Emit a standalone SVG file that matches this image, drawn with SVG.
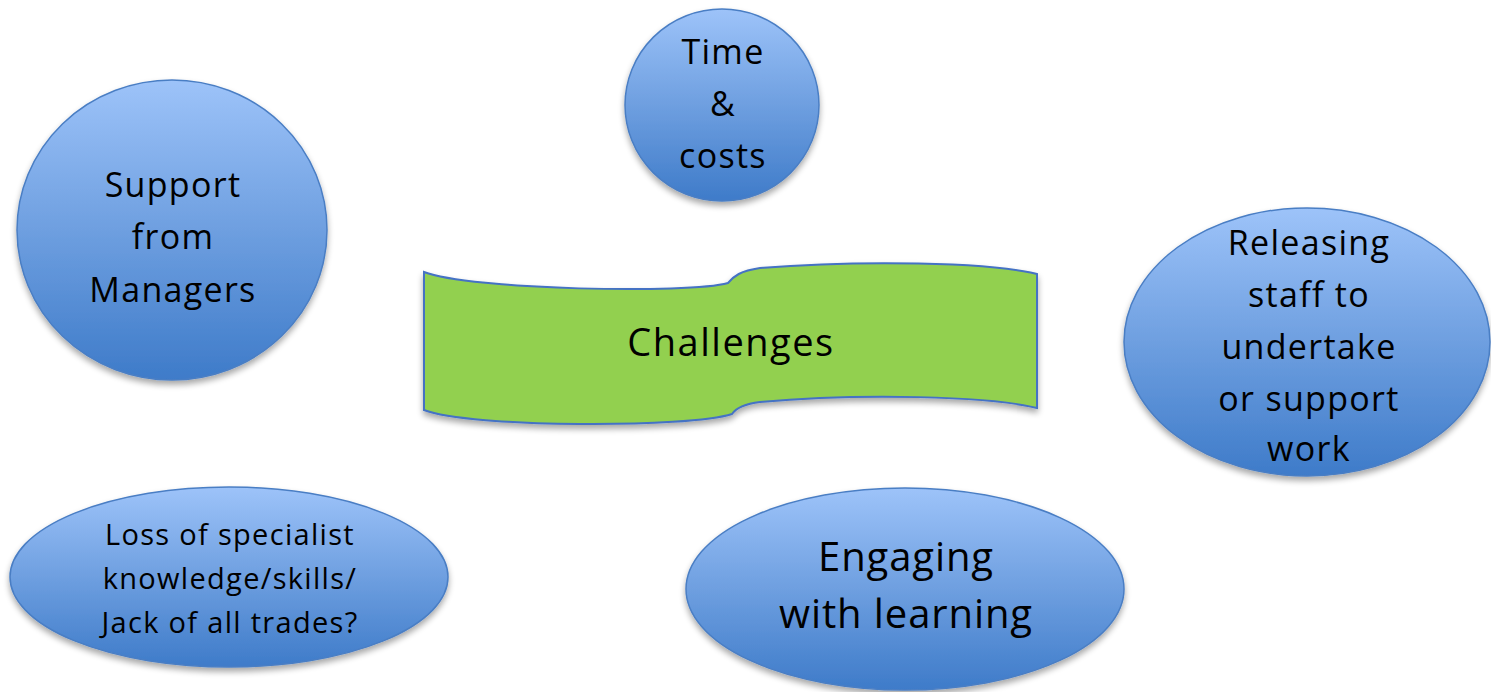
<svg xmlns="http://www.w3.org/2000/svg" width="1491" height="692" viewBox="0 0 1491 692">
<defs>
<linearGradient id="blue" x1="0" y1="0" x2="0" y2="1">
<stop offset="0" stop-color="#9DC3F9"/>
<stop offset="0.5" stop-color="#6E9FE0"/>
<stop offset="1" stop-color="#3E7BC9"/>
</linearGradient>
<filter id="sh" x="-20%" y="-20%" width="140%" height="150%">
<feGaussianBlur in="SourceAlpha" stdDeviation="3"/>
<feOffset dx="0" dy="4" result="b"/>
<feComponentTransfer><feFuncA type="linear" slope="0.35"/></feComponentTransfer>
<feMerge><feMergeNode/><feMergeNode in="SourceGraphic"/></feMerge>
</filter>
</defs>
<style>
.node{fill:url(#blue);stroke:#4A7EC4;stroke-width:1.5;filter:url(#sh)}
.banner{fill:#92D050;stroke:#4472C4;stroke-width:2;filter:url(#sh)}
text{font-family:"Open Sans","Noto Sans","Liberation Sans",sans-serif;fill:#000;text-anchor:middle}
.t34{font-size:34px;letter-spacing:1.3px}
</style>
<rect width="1491" height="692" fill="#fff"/>
<g id="challenges">
<path class="banner" d="M424,272 C470,290 690,294 728,283 C734,276 740,271 760,268 C860,260 990,262 1037,274 L1037,408 C990,396 860,393 760,402 C744,404 736,408 732,414 C690,428 470,428 424,410 Z"/>
<text x="731" y="356" font-size="38" letter-spacing="1.5">Challenges</text>
</g>
<g id="time-costs">
<ellipse class="node" cx="722" cy="105" rx="97" ry="96"/>
<text class="t34"><tspan x="723" y="64">Time</tspan><tspan x="723" y="116">&amp;</tspan><tspan x="723" y="168">costs</tspan></text>
</g>
<g id="support">
<ellipse class="node" cx="172" cy="230" rx="155" ry="150"/>
<text class="t34"><tspan x="173" y="197">Support</tspan><tspan x="173" y="249">from</tspan><tspan x="173" y="302">Managers</tspan></text>
</g>
<g id="releasing">
<ellipse class="node" cx="1307" cy="342" rx="183" ry="134"/>
<text class="t34"><tspan x="1309" y="255">Releasing</tspan><tspan x="1309" y="307">staff to</tspan><tspan x="1309" y="359">undertake</tspan><tspan x="1309" y="411">or support</tspan><tspan x="1309" y="461">work</tspan></text>
</g>
<g id="loss">
<ellipse class="node" cx="229" cy="577" rx="219" ry="90"/>
<text font-size="29" letter-spacing="1.3"><tspan x="230" y="545">Loss of specialist</tspan><tspan x="230" y="589">knowledge/skills/</tspan><tspan x="230" y="633">Jack of all trades?</tspan></text>
</g>
<g id="engaging">
<ellipse class="node" cx="905" cy="589" rx="219" ry="101"/>
<text font-size="40" letter-spacing="0.9"><tspan x="906" y="571">Engaging</tspan><tspan x="906" y="628">with learning</tspan></text>
</g>
<g id="connectors"/>
</svg>
